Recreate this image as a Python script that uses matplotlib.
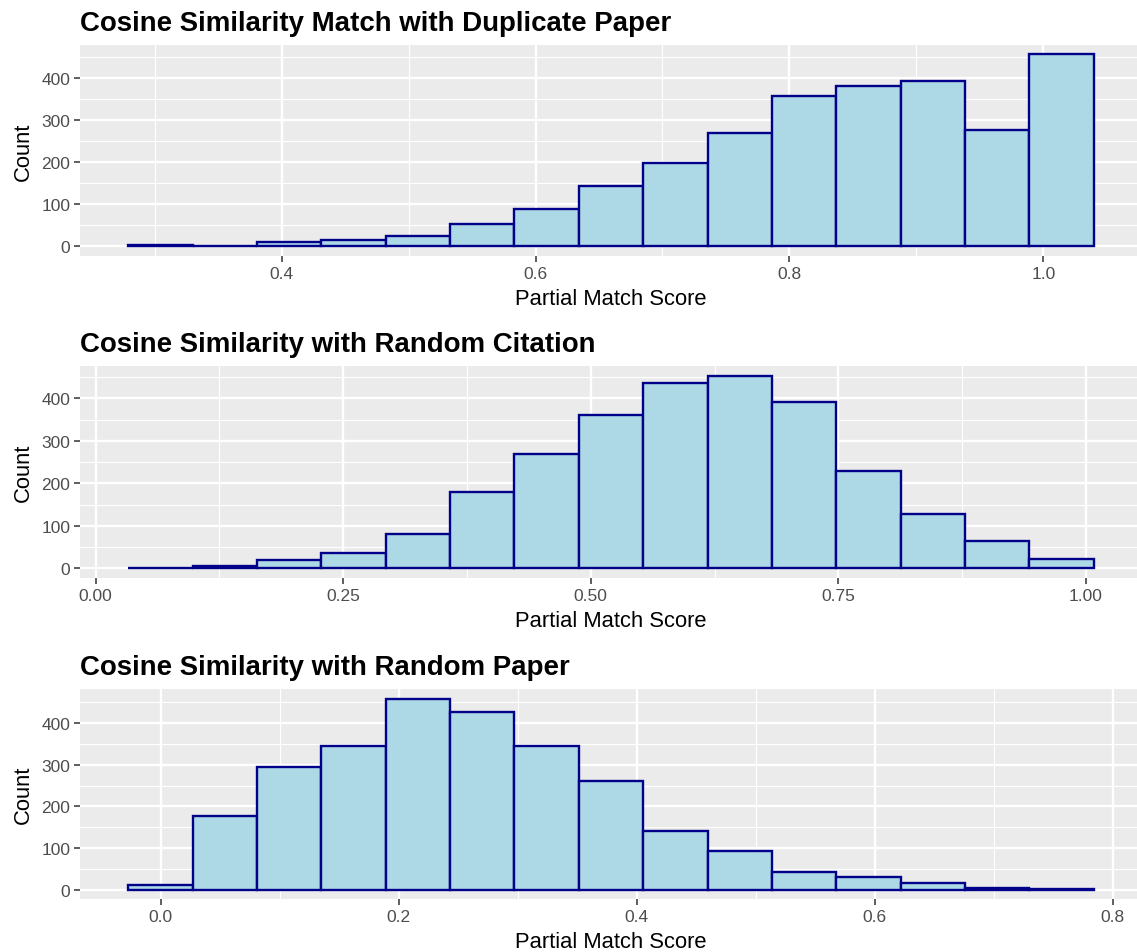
import matplotlib
matplotlib.use('Agg')
import matplotlib.pyplot as plt
import numpy as np

plt.rcParams['font.family'] = ['Liberation Sans', 'DejaVu Sans']

# histogram bins: first edge, bin width and counts per bin
dup_start = 0.2792
dup_width = 0.0507
dup_counts = [3, 0, 10, 16, 25, 53, 89, 144, 199, 269, 357, 382, 394, 276, 457]

cit_start = 0.0329
cit_width = 0.0650
cit_counts = [1, 5, 19, 37, 80, 179, 269, 360, 436, 453, 391, 229, 127, 64, 22]

rnd_start = -0.0274
rnd_width = 0.0541
rnd_counts = [11, 178, 296, 346, 459, 426, 345, 261, 141, 93, 43, 30, 15, 4, 2]

titles = [
    'Cosine Similarity Match with Duplicate Paper',
    'Cosine Similarity with Random Citation',
    'Cosine Similarity with Random Paper',
]
x_breaks = [[0.4, 0.6, 0.8, 1.0], [0.0, 0.25, 0.5, 0.75, 1.0], [0.0, 0.2, 0.4, 0.6, 0.8]]
x_labels = [['0.4', '0.6', '0.8', '1.0'], ['0.00', '0.25', '0.50', '0.75', '1.00'],
            ['0.0', '0.2', '0.4', '0.6', '0.8']]
y_breaks = [0, 100, 200, 300, 400]

W, H = 1137, 953
# panel boxes in pixels: left, top, right, bottom
boxes = [(80, 45.8, 1142, 256.9), (80, 367.1, 1142, 578.9), (80, 690.2, 1142, 900.2)]

fig = plt.figure(figsize=(W / 100, H / 100), dpi=100)
fig.patch.set_facecolor('white')

panels = [(dup_start, dup_width, dup_counts), (cit_start, cit_width, cit_counts),
          (rnd_start, rnd_width, rnd_counts)]

for i, (start, width, counts) in enumerate(panels):
    l, t, r, b = boxes[i]
    ax = fig.add_axes([l / W, 1 - b / H, (r - l) / W, (b - t) / H])
    ax.set_facecolor('#EBEBEB')
    counts = np.array(counts)
    lefts = start + width * np.arange(len(counts))
    lo, hi = lefts[0], lefts[-1] + width
    pad = 0.05 * (hi - lo)
    ax.set_xlim(lo - pad, hi + pad)
    top = counts.max()
    ax.set_ylim(-0.05 * top, 1.05 * top)

    # grid: minor lines halfway between breaks
    xb = x_breaks[i]
    step = xb[1] - xb[0]
    minor_x = np.arange(xb[0] - step / 2, hi + pad, step)
    for x in minor_x:
        ax.axvline(x, color='white', lw=0.8, zorder=0)
    for x in xb:
        ax.axvline(x, color='white', lw=1.7, zorder=0)
    for y in range(50, 500, 100):
        ax.axhline(y, color='white', lw=0.8, zorder=0)
    for y in y_breaks:
        ax.axhline(y, color='white', lw=1.7, zorder=0)

    ax.bar(lefts, counts, width=width, align='edge', color='#ADD8E6',
           edgecolor='#00008B', linewidth=1.7, zorder=2)

    ax.set_xticks(xb)
    ax.set_xticklabels(x_labels[i])
    ax.set_yticks(y_breaks)
    ax.tick_params(axis='both', length=4, width=1.1, color='#333333',
                   labelcolor='#4D4D4D', labelsize=12.5, pad=3)
    for s in ax.spines.values():
        s.set_visible(False)
    ax.set_xlabel('Partial Match Score', fontsize=15.8, color='black', labelpad=5)
    ax.set_ylabel('Count', fontsize=15.8, color='black', labelpad=5)
    ax.set_title(titles[i], loc='left', fontsize=19.9, fontweight='bold', pad=11)

fig.savefig('out.png', dpi=100)
